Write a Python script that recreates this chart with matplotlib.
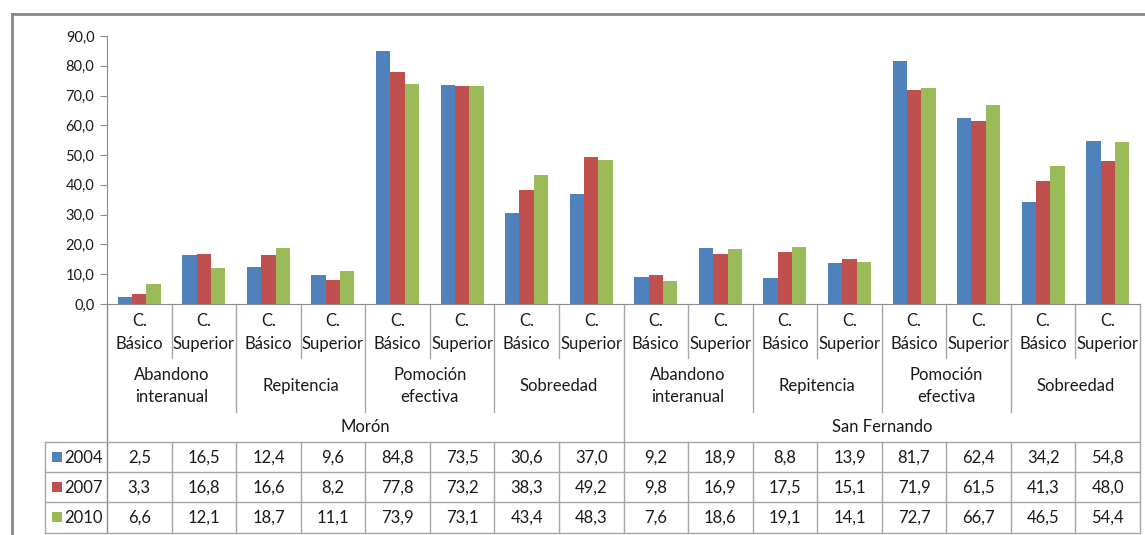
import matplotlib
matplotlib.use('Agg')
import matplotlib.pyplot as plt
from matplotlib.transforms import blended_transform_factory
from matplotlib.lines import Line2D
from matplotlib.patches import Rectangle
import numpy as np

plt.rcParams['font.family'] = ['Lato', 'DejaVu Sans']

# ---------------- data ----------------
cities = ['Morón', 'San Fernando']
indicators = [['Abandono', 'interanual'], ['Repitencia'], ['Pomoción', 'efectiva'], ['Sobreedad']]
levels = [['C.', 'Básico'], ['C.', 'Superior']]
years = ['2004', '2007', '2010']
v2004 = [2.5, 16.5, 12.4, 9.6, 84.8, 73.5, 30.6, 37.0, 9.2, 18.9, 8.8, 13.9, 81.7, 62.4, 34.2, 54.8]
v2007 = [3.3, 16.8, 16.6, 8.2, 77.8, 73.2, 38.3, 49.2, 9.8, 16.9, 17.5, 15.1, 71.9, 61.5, 41.3, 48.0]
v2010 = [6.6, 12.1, 18.7, 11.1, 73.9, 73.1, 43.4, 48.3, 7.6, 18.6, 19.1, 14.1, 72.7, 66.7, 46.5, 54.4]
series = [v2004, v2007, v2010]
colors = ['#4F81BD', '#C0504D', '#9BBB59']
yticks = [0, 10, 20, 30, 40, 50, 60, 70, 80, 90]

# ---------------- layout ----------------
W, H = 1145, 535
fig = plt.figure(figsize=(W / 100, H / 100), dpi=100)
ax_left, ax_right, ax_top, ax_bot = 107, 1140, 36, 304
ax = fig.add_axes([ax_left / W, 1 - ax_bot / H, (ax_right - ax_left) / W, (ax_bot - ax_top) / H])

n = len(v2004)
x = np.arange(n)
bw = 1 / 4.5
for k, (vals, c) in enumerate(zip(series, colors)):
    ax.bar(x + (k - 1) * bw, vals, width=bw, color=c, edgecolor='none', label=years[k], zorder=2)

ax.set_xlim(-0.5, n - 0.5)
ax.set_ylim(0, 90)
ax.set_yticks(yticks)
ax.set_yticklabels([f'{t:.1f}'.replace('.', ',') for t in yticks], fontsize=10.5, color='#1a1a1a')
ax.set_xticks([])
axis_col = '#8c8c8c'
grid_col = '#a6a6a6'
for s in ['top', 'right']:
    ax.spines[s].set_visible(False)
ax.spines['left'].set_color(axis_col)
ax.spines['bottom'].set_color(axis_col)
ax.tick_params(axis='y', length=5, color=axis_col, pad=4)

trans = blended_transform_factory(ax.transData, ax.transAxes)
hpx = ax_bot - ax_top
cat_px = (ax_right - ax_left) / n


def fy(py):
    return (ax_bot - py) / hpx


def vline(xd, y0, y1, col=grid_col):
    ax.add_line(Line2D([xd, xd], [fy(y0), fy(y1)], transform=trans, color=col, lw=1, clip_on=False))


def hline(x0, x1, py, col=grid_col):
    ax.add_line(Line2D([x0, x1], [fy(py), fy(py)], transform=trans, color=col, lw=1, clip_on=False))


row_lv, row_ind, row_city, tbl_rows = 358, 412, 442, [442, 472, 502, 533]
leg_x = -0.5 - (ax_left - 45) / cat_px

# category separators
for i in range(n + 1):
    xb = i - 0.5
    if i == 0 or i == n:
        vline(xb, ax_bot, tbl_rows[-1], axis_col if i == 0 else grid_col)
    elif i % (n // 2) == 0:
        vline(xb, ax_bot, tbl_rows[-1])
    elif i % 2 == 0:
        vline(xb, ax_bot, row_ind)
        vline(xb, row_city, tbl_rows[-1])
    else:
        vline(xb, ax_bot, row_lv)
        vline(xb, row_city, tbl_rows[-1])

for py in tbl_rows:
    hline(leg_x, n - 0.5, py)
vline(leg_x, tbl_rows[0], tbl_rows[-1])

fs = 12
tc = '#1a1a1a'
# level labels
for i in range(n):
    lv = levels[i % 2]
    ax.text(i, fy(326), lv[0], transform=trans, ha='center', va='baseline', fontsize=fs, color=tc)
    ax.text(i, fy(349), lv[1], transform=trans, ha='center', va='baseline', fontsize=fs, color=tc)
# indicator labels
for g in range(n // 2):
    ind = indicators[g % len(indicators)]
    xc = 2 * g + 0.5
    if len(ind) == 2:
        ax.text(xc, fy(380), ind[0], transform=trans, ha='center', va='baseline', fontsize=fs, color=tc)
        ax.text(xc, fy(402), ind[1], transform=trans, ha='center', va='baseline', fontsize=fs, color=tc)
    else:
        ax.text(xc, fy(391), ind[0], transform=trans, ha='center', va='baseline', fontsize=fs, color=tc)
# city labels
for c, city in enumerate(cities):
    xc = c * (n // 2) + (n // 2 - 1) / 2
    ax.text(xc, fy(432), city, transform=trans, ha='center', va='baseline', fontsize=fs, color=tc)

# data table
baselines = [463, 493, 523]
for k, vals in enumerate(series):
    for i, v in enumerate(vals):
        ax.text(i, fy(baselines[k]), f'{v:.1f}'.replace('.', ','), transform=trans,
                ha='center', va='baseline', fontsize=fs, color=tc)
    # legend key
    fig.patches.append(Rectangle((52 / W, 1 - (baselines[k] - 1) / H), 10 / W, 10 / H,
                                 transform=fig.transFigure, facecolor=colors[k], edgecolor='none'))
    fig.text(64 / W, 1 - baselines[k] / H, years[k], ha='left', va='baseline', fontsize=fs, color=tc)

# outer chart frame
frame_col = '#868686'
fig.add_artist(Line2D([12 / W, 1], [1 - 14 / H, 1 - 14 / H], transform=fig.transFigure, color=frame_col, lw=2))
fig.add_artist(Line2D([12 / W, 12 / W], [1 - 14 / H, 0], transform=fig.transFigure, color=frame_col, lw=2))

fig.savefig('out.png', dpi=100)
